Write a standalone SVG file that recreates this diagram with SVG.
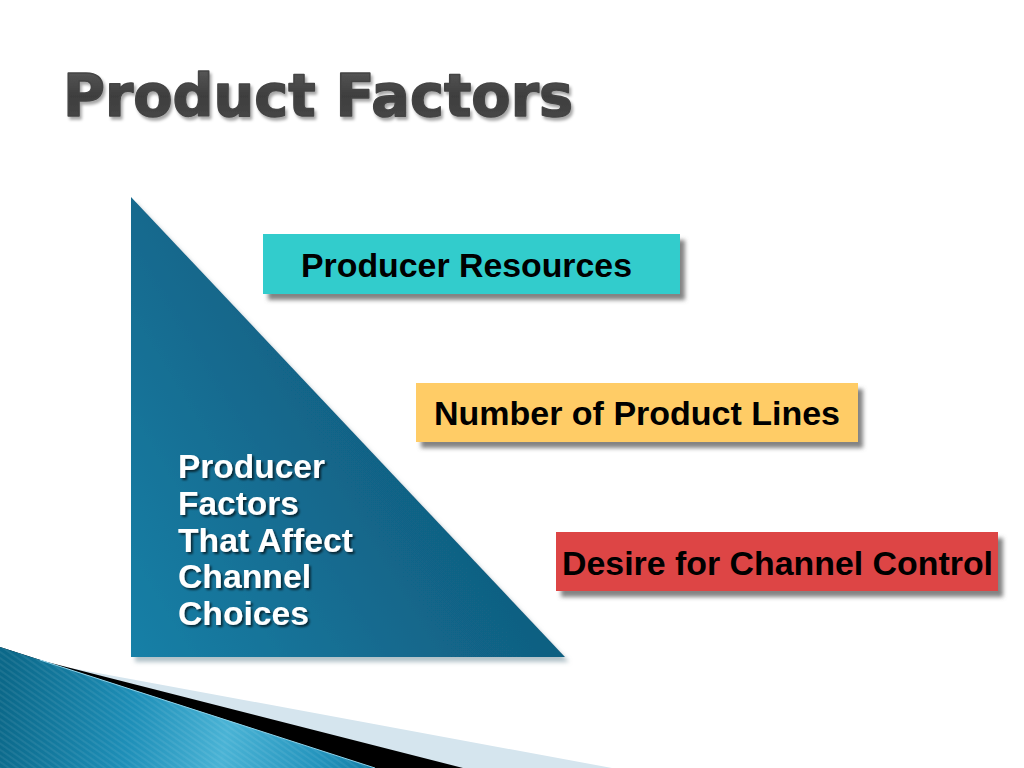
<svg xmlns="http://www.w3.org/2000/svg" width="1024" height="768" viewBox="0 0 1024 768">
  <defs>
    <style>
      .title { font-family: "DejaVu Sans", "Liberation Sans", sans-serif; font-weight: bold; font-size: 58px; fill: url(#titleGrad); stroke: #444444; stroke-width: 1.6px; stroke-linejoin: round; }
      .tri-text { font-family: "Liberation Sans", Arial, sans-serif; font-weight: bold; font-size: 33px; fill: #ffffff; }
      .box-text { font-family: "Liberation Sans", Arial, sans-serif; font-weight: bold; font-size: 34px; fill: #000000; }
    </style>
    <linearGradient id="titleGrad" x1="0" y1="0" x2="0" y2="1">
      <stop offset="0" stop-color="#5e5e5e"/>
      <stop offset="0.5" stop-color="#3e3e3e"/>
      <stop offset="1" stop-color="#4a4a4a"/>
    </linearGradient>
    <linearGradient id="triGrad" x1="131" y1="657" x2="520" y2="420" gradientUnits="userSpaceOnUse">
      <stop offset="0" stop-color="#1880a7"/>
      <stop offset="0.6" stop-color="#12668a"/>
      <stop offset="1" stop-color="#0f5a79"/>
    </linearGradient>
    <linearGradient id="swooshGrad" x1="0" y1="700" x2="375" y2="768" gradientUnits="userSpaceOnUse">
      <stop offset="0" stop-color="#0b6889"/>
      <stop offset="0.35" stop-color="#1e8fb8"/>
      <stop offset="0.6" stop-color="#4ab3d5"/>
      <stop offset="0.85" stop-color="#2494bd"/>
      <stop offset="1" stop-color="#137ca3"/>
    </linearGradient>
    <pattern id="stripes" patternUnits="userSpaceOnUse" width="5" height="5" patternTransform="rotate(-55)">
      <rect x="0" y="0" width="2" height="5" fill="#ffffff" fill-opacity="0.07"/>
    </pattern>
    <filter id="titleShadow" x="-5%" y="-20%" width="110%" height="150%">
      <feGaussianBlur in="SourceAlpha" stdDeviation="1.5"/>
      <feOffset dx="2" dy="3" result="b"/>
      <feFlood flood-color="#000000" flood-opacity="0.35"/>
      <feComposite in2="b" operator="in"/>
      <feMerge><feMergeNode/><feMergeNode in="SourceGraphic"/></feMerge>
    </filter>
    <filter id="boxShadow" x="-5%" y="-20%" width="115%" height="150%">
      <feGaussianBlur in="SourceAlpha" stdDeviation="2"/>
      <feOffset dx="5" dy="6" result="b"/>
      <feFlood flood-color="#5a5a5a" flood-opacity="0.75"/>
      <feComposite in2="b" operator="in"/>
      <feMerge><feMergeNode/><feMergeNode in="SourceGraphic"/></feMerge>
    </filter>
    <filter id="triShadow" x="-5%" y="-5%" width="115%" height="115%">
      <feGaussianBlur in="SourceAlpha" stdDeviation="2"/>
      <feOffset dx="4" dy="5" result="b"/>
      <feFlood flood-color="#7f9aa5" flood-opacity="0.6"/>
      <feComposite in2="b" operator="in"/>
      <feMerge><feMergeNode/><feMergeNode in="SourceGraphic"/></feMerge>
    </filter>
    <filter id="textShadow" x="-5%" y="-20%" width="115%" height="150%">
      <feGaussianBlur in="SourceAlpha" stdDeviation="0.8"/>
      <feOffset dx="2" dy="2" result="b"/>
      <feFlood flood-color="#000000" flood-opacity="0.65"/>
      <feComposite in2="b" operator="in"/>
      <feMerge><feMergeNode/><feMergeNode in="SourceGraphic"/></feMerge>
    </filter>
  </defs>

  <rect x="0" y="0" width="1024" height="768" fill="#ffffff"/>

  <!-- Bottom-left decorative swoosh -->
  <g id="swoosh">
    <path d="M0,647 L60,666 L612,768 L0,768 Z" fill="#d5e5ee"/>
    <path d="M0,647 L45,661.5 L463,768 L0,768 Z" fill="#000000"/>
    <path d="M0,647 L375,768 L0,768 Z" fill="url(#swooshGrad)"/>
    <path d="M0,647 L375,768 L0,768 Z" fill="url(#stripes)"/>
    <line x1="40" y1="660" x2="375" y2="768" stroke="#8fd3ea" stroke-width="1"/>
  </g>

  <!-- Title -->
  <g id="title">
    <text class="title" x="63" y="116" textLength="510" lengthAdjust="spacingAndGlyphs" filter="url(#titleShadow)">Product Factors</text>
  </g>

  <!-- Triangle node -->
  <g id="producer-factors">
    <polygon points="131,197 131,657 565,657" fill="url(#triGrad)" filter="url(#triShadow)"/>
    <g filter="url(#textShadow)">
      <text class="tri-text" x="178" y="478" textLength="147" lengthAdjust="spacingAndGlyphs">Producer</text>
      <text class="tri-text" x="178" y="515" textLength="121" lengthAdjust="spacingAndGlyphs">Factors</text>
      <text class="tri-text" x="178" y="552" textLength="175" lengthAdjust="spacingAndGlyphs">That Affect</text>
      <text class="tri-text" x="178" y="588" textLength="133" lengthAdjust="spacingAndGlyphs">Channel</text>
      <text class="tri-text" x="178" y="625" textLength="131" lengthAdjust="spacingAndGlyphs">Choices</text>
    </g>
  </g>

  <!-- Boxes -->
  <g id="producer-resources">
    <rect x="263" y="234" width="417" height="60" fill="#33cccc" filter="url(#boxShadow)"/>
    <text class="box-text" x="301" y="277" textLength="331" lengthAdjust="spacingAndGlyphs">Producer Resources</text>
  </g>

  <g id="number-of-product-lines">
    <rect x="416" y="383" width="442" height="59" fill="#ffcc66" filter="url(#boxShadow)"/>
    <text class="box-text" x="434" y="425" textLength="406" lengthAdjust="spacingAndGlyphs">Number of Product Lines</text>
  </g>

  <g id="desire-for-channel-control">
    <rect x="556" y="532" width="442" height="59" fill="#dd4444" filter="url(#boxShadow)"/>
    <text class="box-text" x="562" y="575" textLength="431" lengthAdjust="spacingAndGlyphs">Desire for Channel Control</text>
  </g>

  <g id="connectors"></g>
</svg>
